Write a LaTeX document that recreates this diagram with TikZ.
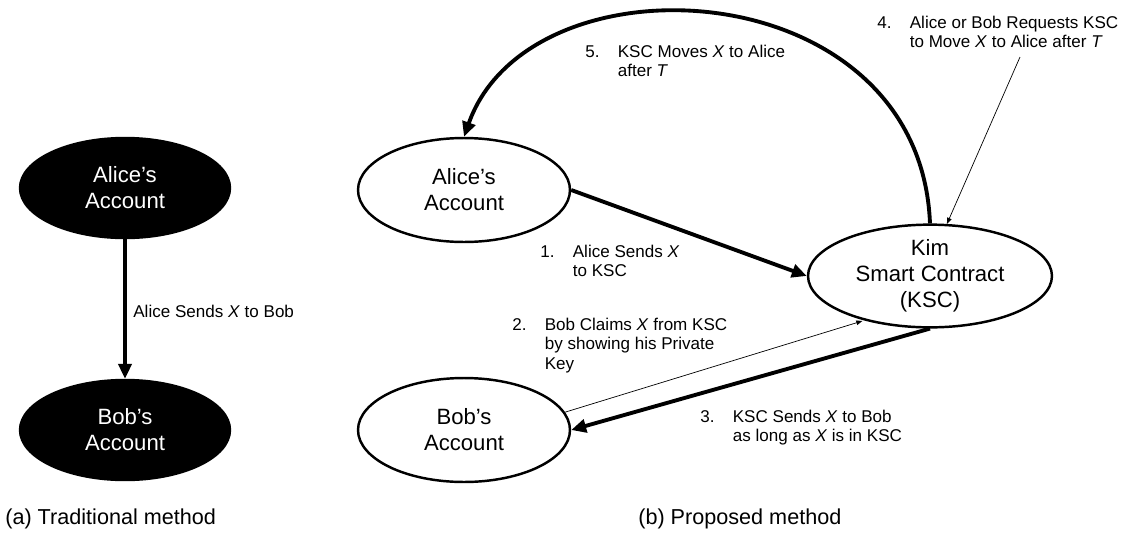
\documentclass[tikz,border=0pt]{standalone}
\usepackage{fontspec}
\setmainfont{Liberation Sans}
\usetikzlibrary{shapes.geometric,arrows.meta}
\newcommand\numlab[2]{\makebox[18.5pt][l]{#1}\begin{tabular}[t]{@{}l@{}}#2\end{tabular}}

\begin{document}
\begin{tikzpicture}[x=0.02cm,y=-0.02cm,
	acct/.style={ellipse,draw,line width=1.4pt,inner sep=0pt,minimum width=4.24cm,minimum height=2.08cm,align=center,font=\fontsize{12.6}{14.8}\selectfont},
	blackacct/.style={acct,fill=black,text=white,minimum width=4.2cm,minimum height=2cm},
	lab/.style={anchor=base west,inner sep=0pt,font=\fontsize{9.7}{11.3}\selectfont},
	subcap/.style={anchor=base west,inner sep=0pt,font=\fontsize{12.3}{14}\selectfont},
	heavy/.style={line width=2.2pt,-{Triangle[length=8.5pt,width=7.5pt]}},
	light/.style={line width=0.4pt,-{Triangle[length=3.5pt,width=2.6pt]}}]
	\useasboundingbox (0,0) rectangle (1137,545);

	% (a) traditional method
	\node[blackacct] (aliceL) at (125,188) {Alice's\\Account};
	\node[blackacct] (bobL) at (125,430) {Bob's\\Account};
	\draw[heavy,line width=2pt] (aliceL.south)--(bobL.north);
	\node[lab] (sendL) at (133,317) {Alice Sends \textit{X} to Bob};
	\node[subcap] (capA) at (5,524) {(a) Traditional method};

	% (b) proposed method
	\node[acct] (aliceR) at (464,190) {Alice's\\Account};
	\node[acct] (bobR) at (464,430) {Bob's\\Account};
	\node[acct,minimum width=4.88cm,minimum height=2.04cm] (kim) at (930,276) {Kim\\Smart Contract\\(KSC)};

	\draw[heavy] (aliceR.east)--(kim.west);
	\draw[light,shorten >=1pt] (bobR.10)--(kim.214);
	\draw[heavy] (kim.south)--(bobR.east);
	\coordinate (req) at (1020,57);
	\draw[light] (req)--(kim.72);
	\draw[heavy] (kim.north) .. controls (920,-30) and (530,-50) .. (aliceR.north);

	\node[lab] (lab1) at (540,257) {\numlab{1.}{Alice Sends \textit{X}\\to KSC}};
	\node[lab] (lab2) at (512,330) {\numlab{2.}{Bob Claims \textit{X} from KSC\\by showing his Private\\Key}};
	\node[lab] (lab3) at (700,422) {\numlab{3.}{KSC Sends \textit{X} to Bob\\as long as \textit{X} is in KSC}};
	\node[lab] (lab4) at (877,28) {\numlab{4.}{Alice or Bob Requests KSC\\to Move \textit{X} to Alice after \textit{T}}};
	\node[lab] (lab5) at (585,57) {\numlab{5.}{KSC Moves \textit{X} to Alice\\after \textit{T}}};
	\node[subcap] (capB) at (638,524) {(b) Proposed method};
\end{tikzpicture}
\end{document}
